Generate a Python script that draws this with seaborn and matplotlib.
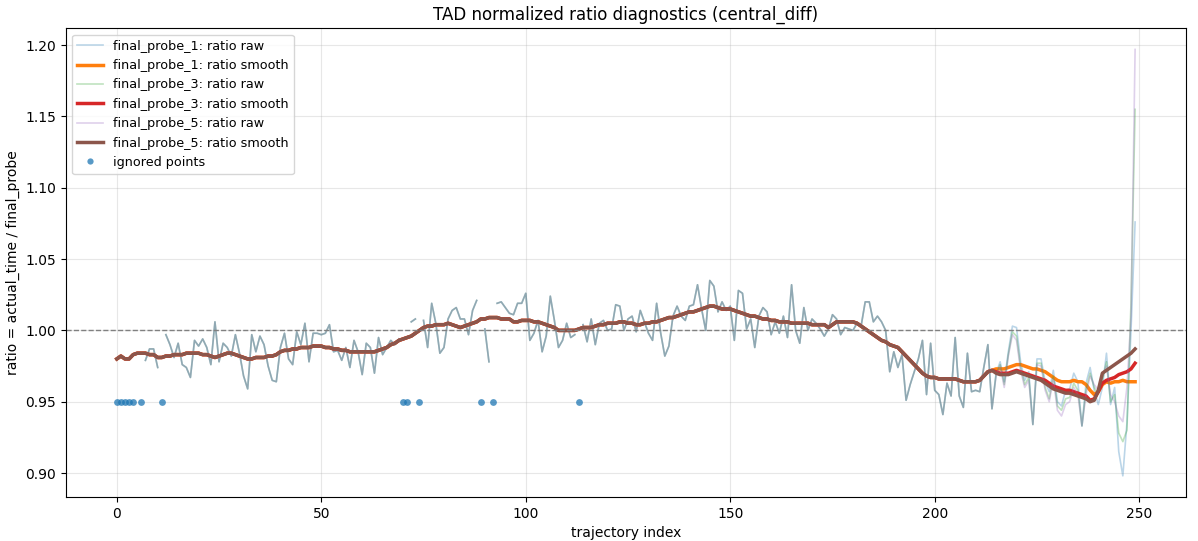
import numpy as np
import pandas as pd
import matplotlib
matplotlib.use("Agg")
import matplotlib.pyplot as plt
from matplotlib.lines import Line2D
import seaborn as sns

N = None
idx = list(range(250))

# raw ratio, common part (index 0..214), None = ignored point
raw_head = [
    N, N, N, N, N, 0.985, N, 0.979, 0.987, 0.987,
    0.974, N, 0.997, 0.990, 0.981, 0.991, 0.976, 0.974, 0.967, 0.993,
    0.989, 0.994, 0.988, 0.976, 1.006, 0.978, 0.991, 0.988, 0.982, 0.997,
    0.984, 0.968, 0.959, 0.997, 0.985, 0.996, 0.990, 0.975, 0.965, 0.964,
    0.988, 0.998, 0.980, 0.976, 0.999, 0.990, 1.005, 0.978, 0.998, 0.998,
    0.997, 0.998, 1.004, 0.985, 0.986, 0.979, 0.988, 0.974, 0.993, 0.985,
    0.969, 0.991, 0.988, 0.970, 0.995, 0.983, 0.988, 0.993, 0.990, 0.994,
    N, N, 1.006, 1.008, N, 1.007, 0.988, 1.019, 1.005, 0.984,
    0.988, 1.008, 1.014, 1.016, 1.008, 1.008, 0.997, 1.014, 1.021, N,
    1.001, 0.978, N, 1.019, 1.020, 1.016, 1.012, 1.011, 1.019, 1.019,
    1.026, 0.993, 0.998, 1.007, 0.985, 0.996, 1.024, 1.007, 0.988, 0.993,
    1.005, 0.995, 0.997, N, 1.004, 0.992, 1.008, 0.990, 1.005, 1.007,
    1.000, 1.001, 1.018, 1.017, 1.000, 1.008, 1.010, 0.999, 1.014, 1.006,
    0.998, 0.993, 1.019, 0.998, 0.982, 0.989, 1.010, 1.017, 1.010, 1.007,
    1.017, 1.018, 1.032, 1.015, 1.000, 1.035, 1.031, 1.013, 1.020, 1.014,
    1.017, 0.993, 1.028, 1.026, 1.001, 1.008, 0.988, 1.010, 1.016, 1.013,
    0.997, 1.006, 0.998, 1.010, 0.995, 1.032, 1.000, 0.991, 1.016, 1.000,
    1.008, 1.005, 1.001, 0.996, 1.001, 1.011, 1.008, 0.997, 1.002, 1.001,
    1.000, 1.005, 1.003, 1.020, 1.020, 1.006, 1.010, 1.006, 1.000, 0.971,
    0.985, 0.974, 0.983, 0.951, 0.962, 0.971, 0.980, 0.993, 0.955, 0.991,
    0.958, 0.955, 0.941, 0.963, 0.954, 0.995, 0.954, 0.946, 0.984, 0.957,
    0.958, 0.957, 0.974, 0.990, 0.945,
]
raw1_tail = [0.970, 0.978, 0.964, 0.985, 1.003, 1.002, 0.978, 0.965, 0.971, 0.934,
             0.980, 0.980, 0.964, 0.957, 0.972, 0.950, 0.947, 0.958, 0.959, 0.970,
             0.964, 0.933, 0.963, 0.974, 0.958, 0.948, 0.960, 0.984, 0.948, 0.960,
             0.915, 0.898, 0.935, 1.000, 1.076]
raw3_tail = [0.969, 0.976, 0.962, 0.983, 0.999, 0.996, 0.974, 0.962, 0.967, 0.934,
             0.977, 0.977, 0.960, 0.952, 0.968, 0.947, 0.944, 0.952, 0.953, 0.963,
             0.958, 0.933, 0.958, 0.970, 0.960, 0.955, 0.965, 0.978, 0.950, 0.955,
             0.928, 0.922, 0.930, 1.020, 1.155]
raw5_tail = [0.968, 0.975, 0.960, 0.982, 0.997, 0.993, 0.972, 0.960, 0.965, 0.934,
             0.976, 0.975, 0.958, 0.950, 0.966, 0.944, 0.940, 0.948, 0.950, 0.960,
             0.955, 0.933, 0.955, 0.968, 0.962, 0.958, 0.968, 0.975, 0.955, 0.950,
             0.940, 0.936, 0.960, 1.010, 1.197]

smooth_head = [
    0.980, 0.982, 0.980, 0.980, 0.983, 0.984, 0.984, 0.984, 0.983, 0.983,
    0.981, 0.981, 0.982, 0.982, 0.983, 0.983, 0.983, 0.984, 0.984, 0.984,
    0.984, 0.983, 0.983, 0.982, 0.981, 0.982, 0.983, 0.984, 0.984, 0.983,
    0.982, 0.981, 0.980, 0.980, 0.981, 0.981, 0.981, 0.982, 0.982, 0.983,
    0.985, 0.986, 0.986, 0.987, 0.987, 0.988, 0.988, 0.988, 0.989, 0.989,
    0.989, 0.988, 0.988, 0.987, 0.987, 0.986, 0.986, 0.985, 0.985, 0.985,
    0.985, 0.985, 0.985, 0.985, 0.986, 0.987, 0.988, 0.990, 0.991, 0.993,
    0.994, 0.995, 0.996, 0.998, 1.000, 1.002, 1.003, 1.003, 1.004, 1.004,
    1.004, 1.005, 1.004, 1.003, 1.002, 1.003, 1.004, 1.005, 1.006, 1.008,
    1.008, 1.009, 1.009, 1.009, 1.008, 1.008, 1.008, 1.006, 1.006, 1.007,
    1.007, 1.007, 1.006, 1.006, 1.005, 1.004, 1.003, 1.002, 1.000, 1.000,
    1.000, 1.000, 1.000, 1.001, 1.002, 1.002, 1.002, 1.003, 1.004, 1.004,
    1.005, 1.005, 1.005, 1.006, 1.006, 1.005, 1.005, 1.004, 1.004, 1.005,
    1.005, 1.006, 1.006, 1.007, 1.008, 1.009, 1.009, 1.010, 1.011, 1.012,
    1.013, 1.013, 1.014, 1.015, 1.016, 1.017, 1.017, 1.016, 1.015, 1.015,
    1.015, 1.014, 1.013, 1.012, 1.011, 1.010, 1.010, 1.009, 1.008, 1.008,
    1.007, 1.007, 1.006, 1.006, 1.006, 1.005, 1.005, 1.005, 1.005, 1.005,
    1.004, 1.004, 1.004, 1.004, 1.002, 1.004, 1.006, 1.006, 1.006, 1.006,
    1.006, 1.005, 1.003, 1.001, 0.999, 0.997, 0.995, 0.993, 0.992, 0.990,
    0.989, 0.988, 0.985, 0.982, 0.979, 0.976, 0.973, 0.970, 0.968, 0.967,
    0.967, 0.966, 0.966, 0.966, 0.966, 0.966, 0.965, 0.964, 0.964, 0.964,
    0.964, 0.965, 0.968, 0.971, 0.972,
]
smooth1_tail = [0.973, 0.973, 0.973, 0.974, 0.975, 0.976, 0.976, 0.975, 0.974, 0.973,
                0.973, 0.972, 0.971, 0.969, 0.967, 0.965, 0.964, 0.964, 0.964, 0.965,
                0.964, 0.964, 0.962, 0.958, 0.955, 0.957, 0.962, 0.964, 0.963, 0.964,
                0.964, 0.965, 0.964, 0.964, 0.964]
smooth3_tail = [0.971, 0.970, 0.970, 0.970, 0.971, 0.972, 0.971, 0.970, 0.969, 0.968,
                0.967, 0.966, 0.965, 0.963, 0.961, 0.960, 0.959, 0.958, 0.958, 0.957,
                0.956, 0.955, 0.954, 0.951, 0.952, 0.957, 0.963, 0.965, 0.966, 0.967,
                0.969, 0.970, 0.971, 0.973, 0.977]
smooth5_tail = [0.970, 0.969, 0.969, 0.969, 0.970, 0.971, 0.970, 0.969, 0.968, 0.967,
                0.966, 0.965, 0.963, 0.961, 0.959, 0.958, 0.957, 0.956, 0.956, 0.955,
                0.954, 0.953, 0.952, 0.950, 0.951, 0.958, 0.970, 0.972, 0.974, 0.976,
                0.978, 0.980, 0.982, 0.984, 0.987]

ignored_idx = [0, 1, 2, 3, 4, 6, 11, 70, 71, 74, 89, 92, 113]
ignored_level = 0.95

probes = ["final_probe_1", "final_probe_3", "final_probe_5"]
raw_series = [raw_head + raw1_tail, raw_head + raw3_tail, raw_head + raw5_tail]
smooth_series = [smooth_head + smooth1_tail, smooth_head + smooth3_tail, smooth_head + smooth5_tail]
raw_colors = ["tab:blue", "tab:green", "tab:purple"]
smooth_colors = ["tab:orange", "tab:red", "tab:brown"]

fig, ax = plt.subplots(figsize=(11.98, 5.41), dpi=100)
handles = []
for name, raw, sm, rc, scol in zip(probes, raw_series, smooth_series, raw_colors, smooth_colors):
    df = pd.DataFrame({"x": idx, "y": pd.array(raw, dtype="Float64").astype(float)})
    df["seg"] = df["y"].isna().cumsum()
    df = df.dropna()
    sns.lineplot(data=df, x="x", y="y", units="seg", estimator=None, color=rc,
                 alpha=0.3, linewidth=1.2, ax=ax, legend=False)
    sns.lineplot(x=idx, y=sm, color=scol, linewidth=2.5, ax=ax, legend=False)
    handles.append(Line2D([], [], color=rc, alpha=0.3, lw=1.2, label=f"{name}: ratio raw"))
    handles.append(Line2D([], [], color=scol, lw=2.5, label=f"{name}: ratio smooth"))

sns.scatterplot(x=ignored_idx, y=[ignored_level] * len(ignored_idx), s=24, color="tab:blue",
                alpha=0.75, linewidth=0, ax=ax, legend=False, zorder=3)
handles.append(Line2D([], [], marker="o", ls="", color="tab:blue", alpha=0.75,
                      markersize=4.5, markeredgewidth=0, label="ignored points"))

ax.axhline(1.0, color="gray", ls="--", lw=1)
ax.grid(True, alpha=0.3)
ax.set_title("TAD normalized ratio diagnostics (central_diff)")
ax.set_xlabel("trajectory index")
ax.set_ylabel("ratio = actual_time / final_probe")
ax.legend(handles=handles, loc="upper left", fontsize=9.2)
fig.subplots_adjust(left=0.055, right=0.99, top=0.948, bottom=0.081)
fig.savefig("out.png", dpi=100)
